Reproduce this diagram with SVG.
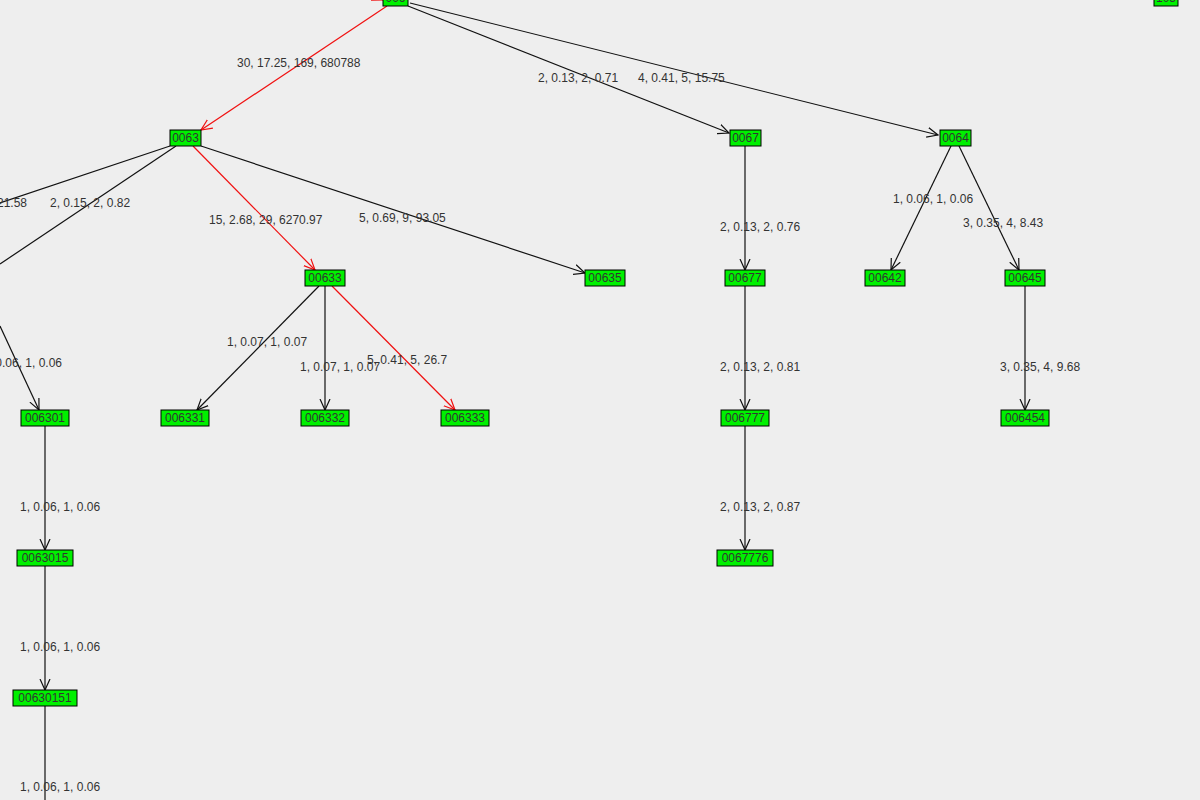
<svg xmlns="http://www.w3.org/2000/svg" width="1200" height="800" viewBox="0 0 1200 800">
<style>
.n rect{fill:#00f000;stroke:#000;stroke-width:1}
.n text{font-family:"Liberation Sans",Arial,sans-serif;font-size:12px;fill:#333;text-anchor:middle}
.e{stroke:#111;stroke-width:1.2;fill:none;marker-end:url(#a)}
.r{stroke:#f01010;stroke-width:1.2;fill:none;marker-end:url(#ar)}
.l{font-family:"Liberation Sans",Arial,sans-serif;font-size:12px;fill:#333}
</style>
<defs>
<marker id="a" viewBox="0 0 12 12" refX="11" refY="6" markerWidth="12" markerHeight="12" markerUnits="userSpaceOnUse" orient="auto"><path d="M0,1 L11,6 L0,11" fill="none" stroke="#111" stroke-width="1.2"/></marker>
<marker id="ar" viewBox="0 0 12 12" refX="11" refY="6" markerWidth="12" markerHeight="12" markerUnits="userSpaceOnUse" orient="auto"><path d="M0,1 L11,6 L0,11" fill="none" stroke="#f01010" stroke-width="1.2"/></marker>
</defs>
<rect width="1200" height="800" fill="#eeeeee"/>
<g id="connectors">
<line class="r" x1="360" y1="-10" x2="383" y2="0"/>
<line class="r" x1="387" y1="6" x2="201" y2="130"/>
<line class="e" x1="408" y1="6" x2="729" y2="133"/>
<line class="e" x1="410" y1="3" x2="938" y2="135"/>
<line x1="170" y1="146" x2="0" y2="203" stroke="#111" stroke-width="1.2"/>
<line x1="176" y1="146" x2="0" y2="264" stroke="#111" stroke-width="1.2"/>
<line class="e" x1="0" y1="326" x2="39" y2="410"/>
<line class="r" x1="193" y1="146" x2="315" y2="270"/>
<line class="e" x1="201" y1="146" x2="585" y2="273"/>
<line class="e" x1="745" y1="146" x2="745" y2="270"/>
<line class="e" x1="951" y1="146" x2="891" y2="270"/>
<line class="e" x1="959" y1="146" x2="1019" y2="270"/>
<line class="e" x1="319" y1="286" x2="197" y2="410"/>
<line class="e" x1="325" y1="286" x2="325" y2="410"/>
<line class="r" x1="332" y1="286" x2="455" y2="410"/>
<line class="e" x1="745" y1="286" x2="745" y2="410"/>
<line class="e" x1="1025" y1="286" x2="1025" y2="410"/>
<line class="e" x1="45" y1="426" x2="45" y2="550"/>
<line class="e" x1="745" y1="426" x2="745" y2="550"/>
<line class="e" x1="45" y1="566" x2="45" y2="690"/>
<line x1="45" y1="706" x2="45" y2="800" stroke="#111" stroke-width="1.2"/>
<text class="l" x="237" y="67">30, 17.25, 169, 680788</text>
<text class="l" x="538" y="82">2, 0.13, 2, 0.71</text>
<text class="l" x="638" y="82">4, 0.41, 5, 15.75</text>
<text class="l" x="27" y="207" text-anchor="end">21.58</text>
<text class="l" x="50" y="207">2, 0.15, 2, 0.82</text>
<text class="l" x="209" y="224">15, 2.68, 29, 6270.97</text>
<text class="l" x="359" y="222">5, 0.69, 9, 93.05</text>
<text class="l" x="720" y="231">2, 0.13, 2, 0.76</text>
<text class="l" x="893" y="203">1, 0.06, 1, 0.06</text>
<text class="l" x="963" y="227">3, 0.35, 4, 8.43</text>
<text class="l" x="227" y="346">1, 0.07, 1, 0.07</text>
<text class="l" x="300" y="371">1, 0.07, 1, 0.07</text>
<text class="l" x="367" y="364">5, 0.41, 5, 26.7</text>
<text class="l" x="62" y="367" text-anchor="end">1, 0.06, 1, 0.06</text>
<text class="l" x="720" y="371">2, 0.13, 2, 0.81</text>
<text class="l" x="1000" y="371">3, 0.35, 4, 9.68</text>
<text class="l" x="20" y="511">1, 0.06, 1, 0.06</text>
<text class="l" x="720" y="511">2, 0.13, 2, 0.87</text>
<text class="l" x="20" y="651">1, 0.06, 1, 0.06</text>
<text class="l" x="20" y="791">1, 0.06, 1, 0.06</text>
</g>
<g id="n006" class="n"><rect x="383" y="-10" width="25" height="16"/><text x="395.5" y="2">006</text></g>
<g id="n105" class="n"><rect x="1154" y="-10" width="24" height="16"/><text x="1166" y="2">105</text></g>
<g id="n0063" class="n"><rect x="170" y="130" width="31" height="16"/><text x="185.5" y="142">0063</text></g>
<g id="n0067" class="n"><rect x="730" y="130" width="31" height="16"/><text x="745.5" y="142">0067</text></g>
<g id="n0064" class="n"><rect x="940" y="130" width="31" height="16"/><text x="955.5" y="142">0064</text></g>
<g id="n00633" class="n"><rect x="305" y="270" width="40" height="16"/><text x="325" y="282">00633</text></g>
<g id="n00635" class="n"><rect x="585" y="270" width="40" height="16"/><text x="605" y="282">00635</text></g>
<g id="n00677" class="n"><rect x="725" y="270" width="40" height="16"/><text x="745" y="282">00677</text></g>
<g id="n00642" class="n"><rect x="865" y="270" width="40" height="16"/><text x="885" y="282">00642</text></g>
<g id="n00645" class="n"><rect x="1005" y="270" width="40" height="16"/><text x="1025" y="282">00645</text></g>
<g id="n006301" class="n"><rect x="21" y="410" width="48" height="16"/><text x="45" y="422">006301</text></g>
<g id="n006331" class="n"><rect x="161" y="410" width="48" height="16"/><text x="185" y="422">006331</text></g>
<g id="n006332" class="n"><rect x="301" y="410" width="48" height="16"/><text x="325" y="422">006332</text></g>
<g id="n006333" class="n"><rect x="441" y="410" width="48" height="16"/><text x="465" y="422">006333</text></g>
<g id="n006777" class="n"><rect x="721" y="410" width="48" height="16"/><text x="745" y="422">006777</text></g>
<g id="n006454" class="n"><rect x="1001" y="410" width="48" height="16"/><text x="1025" y="422">006454</text></g>
<g id="n0063015" class="n"><rect x="17" y="550" width="56" height="16"/><text x="45" y="562">0063015</text></g>
<g id="n0067776" class="n"><rect x="717" y="550" width="56" height="16"/><text x="745" y="562">0067776</text></g>
<g id="n00630151" class="n"><rect x="13" y="690" width="64" height="16"/><text x="45" y="702">00630151</text></g>
</svg>
